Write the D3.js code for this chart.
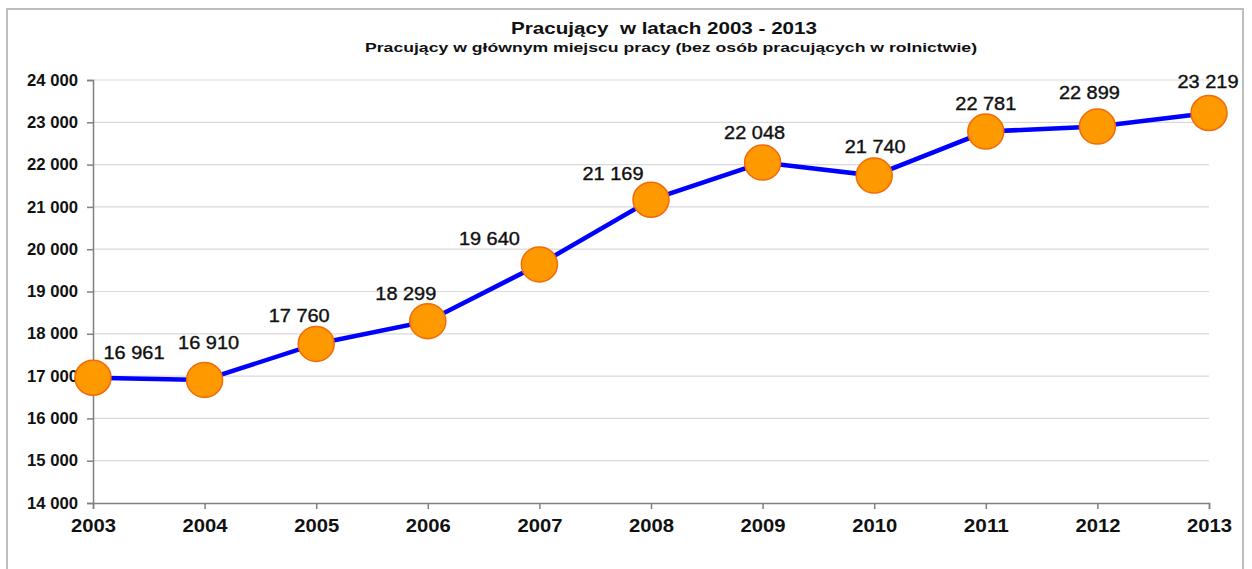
<!DOCTYPE html>
<html>
<head>
<meta charset="utf-8">
<script src="https://cdn.jsdelivr.net/npm/d3@7/dist/d3.min.js"></script>
<style>
  html, body { margin: 0; padding: 0; background: #fff; }
  svg { display: block; }
  text { font-family: "Liberation Sans", Arial, sans-serif; fill: #111; }
</style>
</head>
<body>
<svg id="chart" width="1252" height="569"></svg>
<script>
const years = [2003, 2004, 2005, 2006, 2007, 2008, 2009, 2010, 2011, 2012, 2013];
const employed = [16961, 16910, 17760, 18299, 19640, 21169, 22048, 21740, 22781, 22899, 23219];
const yTicks = [14000, 15000, 16000, 17000, 18000, 19000, 20000, 21000, 22000, 23000, 24000];
const titleText = "Pracujący\u00a0 w latach 2003 - 2013";
const subtitleText = "Pracujący w głównym miejscu pracy (bez osób pracujących w rolnictwie)";
// label placement offsets (dx, dy) relative to each marker
const labelOffsets = [[41,-25],[4,-37],[-17,-28],[-22,-28],[-50,-26],[-38,-26],[-8,-30],[1,-29],[0,-28],[-8,-34],[-1,-32]];

const fmt = v => d3.format(",")(v).replace(/,/g, " ");

const svg = d3.select("#chart");
const x = d3.scaleLinear().domain([2003, 2013]).range([93, 1209]);
const y = d3.scaleLinear().domain([14000, 24000]).range([503, 80]);

// outer frame
svg.append("rect").attr("x", 7).attr("y", 9).attr("width", 1236).attr("height", 580)
  .attr("fill", "none").attr("stroke", "#bdbdbd").attr("stroke-width", 2);

// titles
svg.append("text").attr("x", 664).attr("y", 34).attr("text-anchor", "middle")
  .attr("font-size", 17).attr("font-weight", "bold")
  .attr("textLength", 306).attr("lengthAdjust", "spacingAndGlyphs").text(titleText);
svg.append("text").attr("x", 671).attr("y", 52).attr("text-anchor", "middle")
  .attr("font-size", 13.5).attr("font-weight", "bold")
  .attr("textLength", 612).attr("lengthAdjust", "spacingAndGlyphs").text(subtitleText);

// gridlines
svg.append("g").selectAll("line").data(yTicks.filter(t => t > 14000)).join("line")
  .attr("x1", 93).attr("x2", 1209)
  .attr("y1", d => y(d)).attr("y2", d => y(d))
  .attr("stroke", "#d9d9d9").attr("stroke-width", 1.2);

// y axis
const yAxis = svg.append("g").attr("transform", "translate(93,0)")
  .call(d3.axisLeft(y).tickValues(yTicks).tickFormat(fmt).tickSize(6).tickPadding(9));
yAxis.select(".domain").attr("stroke", "#808080").attr("stroke-width", 1.5);
yAxis.selectAll(".tick line").attr("stroke", "#808080").attr("stroke-width", 1.5);
yAxis.selectAll(".tick text").attr("font-size", 16).attr("font-weight", "bold")
  .attr("font-family", "Liberation Sans, Arial, sans-serif").attr("fill", "#111")
  .attr("textLength", 51).attr("lengthAdjust", "spacingAndGlyphs");

// x axis
const xAxis = svg.append("g").attr("transform", "translate(0,503)")
  .call(d3.axisBottom(x).tickValues(years).tickFormat(d3.format("d")).tickSize(6).tickPadding(10));
xAxis.select(".domain").attr("stroke", "#808080").attr("stroke-width", 1.5);
xAxis.selectAll(".tick line").attr("stroke", "#808080").attr("stroke-width", 1.5);
xAxis.selectAll(".tick text").attr("font-size", 18).attr("font-weight", "bold")
  .attr("font-family", "Liberation Sans, Arial, sans-serif").attr("fill", "#111")
  .attr("textLength", 45).attr("lengthAdjust", "spacingAndGlyphs");

const data = years.map((yr, i) => ({ yr, v: employed[i], off: labelOffsets[i] }));

// line
svg.append("path").datum(data)
  .attr("d", d3.line().x(d => x(d.yr)).y(d => y(d.v)))
  .attr("fill", "none").attr("stroke", "#0000ff").attr("stroke-width", 4.5);

// markers
svg.append("g").selectAll("ellipse").data(data).join("ellipse")
  .attr("cx", d => x(d.yr)).attr("cy", d => y(d.v))
  .attr("rx", 18).attr("ry", 17.5)
  .attr("fill", "#ff9900").attr("stroke", "#f26b0a").attr("stroke-width", 1.5);

// labels
svg.append("g").selectAll("text").data(data).join("text")
  .attr("x", d => x(d.yr) + d.off[0]).attr("y", d => y(d.v) + d.off[1])
  .attr("dy", "0.35em").attr("text-anchor", "middle")
  .attr("font-size", 18.5).attr("stroke", "#111").attr("stroke-width", 0.4)
  .attr("textLength", 61).attr("lengthAdjust", "spacingAndGlyphs")
  .text(d => fmt(d.v));
</script>
</body>
</html>
